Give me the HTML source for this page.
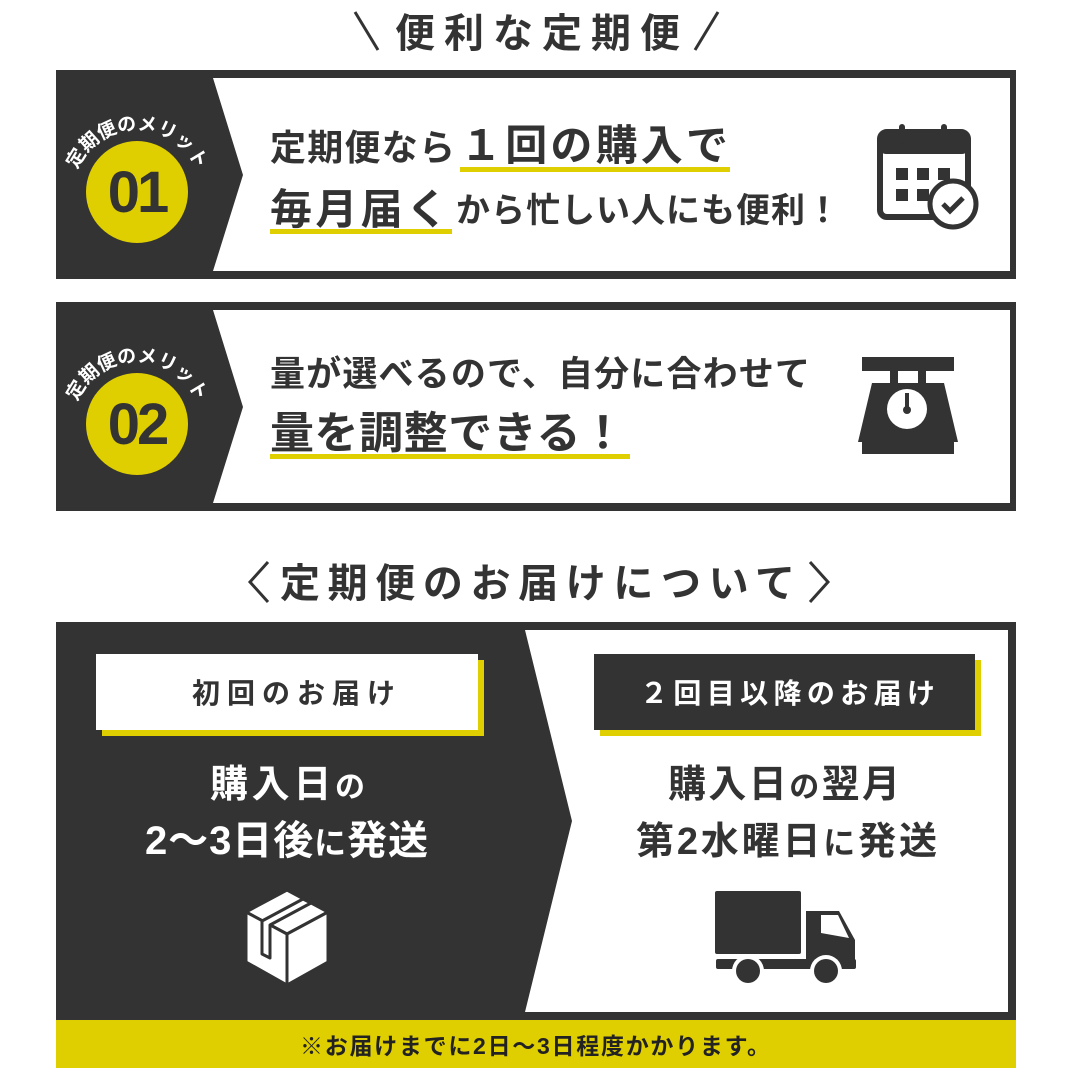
<!DOCTYPE html>
<html><head><meta charset="utf-8"><style>
html,body{margin:0;padding:0;background:#fff;}
svg{display:block}
text{font-family:"Liberation Sans","Noto Sans CJK JP",sans-serif;font-weight:bold;}
</style></head><body>
<svg width="1080" height="1080" viewBox="0 0 1080 1080" xmlns="http://www.w3.org/2000/svg">
<defs>
<path id="arc1" d="M72,195 A65,65 0 0 1 202,195"/>
<path id="arc2" d="M72,427 A65,65 0 0 1 202,427"/>
</defs>
<!-- title 1 -->
<text x="395" y="47" font-size="40" fill="#333" textLength="285" lengthAdjust="spacing">便利な定期便</text>
<line x1="355" y1="12" x2="378" y2="50" stroke="#333" stroke-width="3"/>
<line x1="718" y1="12" x2="695" y2="50" stroke="#333" stroke-width="3"/>

<!-- panel 1 -->
<rect x="56" y="70" width="960" height="209" fill="#333"/>
<polygon points="213,78 1010,78 1010,271 213,271 243,175" fill="#fff"/>
<circle cx="137" cy="192" r="51" fill="#e0cf00"/>
<text x="137" y="212" font-size="58" fill="#333" text-anchor="middle" letter-spacing="-3" font-family="Liberation Sans,sans-serif">01</text>
<text font-size="19" fill="#fff"><textPath href="#arc1" startOffset="50%" text-anchor="middle">定期便のメリット</textPath></text>
<text x="270" y="160" font-size="36" fill="#333" textLength="185" lengthAdjust="spacing">定期便なら</text>
<text x="460" y="160" font-size="42" fill="#333" textLength="268" lengthAdjust="spacing">１回の購入で</text>
<rect x="460" y="167" width="270" height="5" fill="#e0cf00"/>
<text x="270" y="224" font-size="42" fill="#333" textLength="178" lengthAdjust="spacing">毎月届く</text>
<text x="456" y="222" font-size="34" fill="#333" textLength="384" lengthAdjust="spacing">から忙しい人にも便利！</text>
<rect x="270" y="229" width="182" height="5" fill="#e0cf00"/>
<!-- calendar icon -->
<g fill="#333">
<rect x="880" y="132" width="88" height="85" rx="7" fill="none" stroke="#333" stroke-width="6"/>
<rect x="880" y="132" width="88" height="22" rx="6"/>
<rect x="899" y="124" width="6" height="20" rx="3"/><rect x="941" y="124" width="6" height="20" rx="3"/>
<rect x="896" y="168" width="12" height="12"/><rect x="917" y="168" width="12" height="12"/><rect x="938" y="168" width="12" height="12"/>
<rect x="896" y="189" width="12" height="12"/><rect x="917" y="189" width="12" height="12"/>
<circle cx="953" cy="204" r="23" fill="#fff" stroke="#333" stroke-width="5"/>
<polyline points="943,204 950,211 963,198" fill="none" stroke="#333" stroke-width="5"/>
</g>

<!-- panel 2 -->
<rect x="56" y="302" width="960" height="209" fill="#333"/>
<polygon points="213,310 1010,310 1010,503 213,503 243,407" fill="#fff"/>
<circle cx="137" cy="424" r="51" fill="#e0cf00"/>
<text x="137" y="444" font-size="58" fill="#333" text-anchor="middle" letter-spacing="-3" font-family="Liberation Sans,sans-serif">02</text>
<text font-size="19" fill="#fff"><textPath href="#arc2" startOffset="50%" text-anchor="middle">定期便のメリット</textPath></text>
<text x="270" y="386" font-size="35" fill="#333" textLength="540" lengthAdjust="spacing">量が選べるので、自分に合わせて</text>
<text x="270" y="448" font-size="44" fill="#333" textLength="355" lengthAdjust="spacing">量を調整できる！</text>
<rect x="270" y="454" width="360" height="5" fill="#e0cf00"/>
<!-- scale icon -->
<g fill="#333">
<rect x="862" y="357" width="92" height="14"/>
<rect x="890" y="371" width="8" height="12"/><rect x="918" y="371" width="8" height="12"/>
<polygon points="872,383 944,383 958,442 858,442"/>
<rect x="862" y="442" width="92" height="12"/>
<circle cx="907" cy="409" r="20" fill="#fff"/>
<rect x="905" y="393" width="4" height="16"/>
<circle cx="907" cy="410" r="4"/>
</g>

<!-- title 2 -->
<text x="280" y="597" font-size="40" fill="#333" textLength="515" lengthAdjust="spacing">定期便のお届けについて</text>
<polyline points="268,562 250,582 268,602" fill="none" stroke="#333" stroke-width="3"/>
<polyline points="810,562 828,582 810,602" fill="none" stroke="#333" stroke-width="3"/>

<!-- bottom panel -->
<rect x="56" y="622" width="960" height="398" fill="#333"/>
<polygon points="525,630 1008,630 1008,1012 525,1012 572,821" fill="#fff"/>
<!-- left box -->
<rect x="102" y="660" width="382" height="76" fill="#e0cf00"/>
<rect x="96" y="654" width="382" height="76" fill="#fff"/>
<text x="192" y="703" font-size="28" fill="#333" textLength="203" lengthAdjust="spacing">初回のお届け</text>
<text x="210" y="797" font-size="38" fill="#fff" textLength="155" lengthAdjust="spacing">購入日<tspan font-size="30">の</tspan></text>
<text x="145" y="854" font-size="40" fill="#fff" textLength="283" lengthAdjust="spacing">2～3日後<tspan font-size="32">に</tspan>発送</text>
<!-- box icon -->
<g fill="#fff" stroke="#333" stroke-width="3" stroke-linejoin="round">
<polygon points="287,890 328,912 287,934 246,912"/>
<polygon points="246,912 287,934 287,985 246,962"/>
<polygon points="287,934 328,912 328,962 287,985"/>
<polygon points="262,921 303,899 311,903 270,925 270,958 262,954" fill="#fff"/>
</g>
<!-- right box -->
<rect x="600" y="660" width="381" height="76" fill="#e0cf00"/>
<rect x="594" y="654" width="381" height="76" fill="#333"/>
<text x="640" y="703" font-size="28" fill="#fff" textLength="295" lengthAdjust="spacing">２回目以降のお届け</text>
<text x="668" y="797" font-size="38" fill="#333" textLength="232" lengthAdjust="spacing">購入日<tspan font-size="30">の</tspan>翌月</text>
<text x="636" y="854" font-size="38" fill="#333" textLength="301" lengthAdjust="spacing">第2水曜日<tspan font-size="32">に</tspan>発送</text>
<!-- truck -->
<g fill="#333">
<rect x="715" y="891" width="86" height="63" rx="2"/>
<polygon points="806,911 839,911 855,940 855,963 806,963"/>
<rect x="716" y="959" width="140" height="10" rx="2"/>
<polygon points="821,915 838,915 849,938 821,933" fill="#fff"/>
<circle cx="748" cy="971" r="16" fill="#fff"/><circle cx="748" cy="971" r="12"/>
<circle cx="826" cy="971" r="16" fill="#fff"/><circle cx="826" cy="971" r="12"/>
</g>

<!-- yellow bar -->
<rect x="56" y="1020" width="960" height="48" fill="#e0cf00"/>
<text x="300" y="1054" font-size="23" fill="#222" textLength="470" lengthAdjust="spacing">※お届けまでに2日～3日程度かかります。</text>
</svg>
</body></html>
